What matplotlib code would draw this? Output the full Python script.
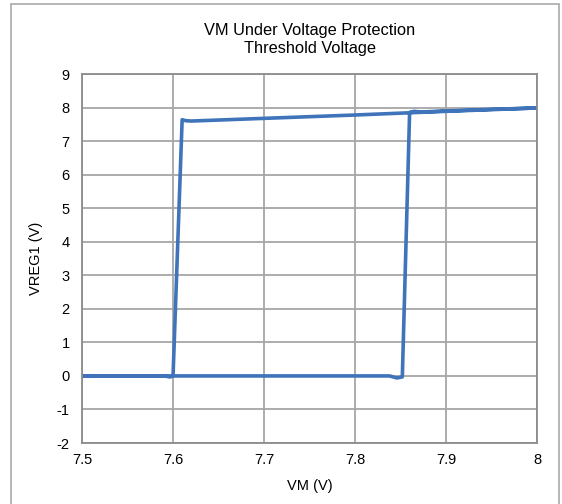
import numpy as np
import matplotlib.pyplot as plt
from matplotlib.patches import Rectangle

plt.rcParams["font.family"] = ["Liberation Sans", "DejaVu Sans"]
plt.rcParams["axes.unicode_minus"] = False

# hysteresis sweep: rising VM then falling VM
vm_up = [7.50, 7.60, 7.70, 7.80, 7.838, 7.846, 7.852, 7.860, 7.865, 7.872, 7.90, 7.95, 8.00]
vreg_up = [0.00, 0.00, 0.00, 0.00, 0.00, -0.06, -0.03, 7.86, 7.89, 7.87, 7.90, 7.95, 7.99]
vm_down = [8.00, 7.90, 7.80, 7.70, 7.62, 7.614, 7.610, 7.600, 7.597, 7.59, 7.55, 7.50]
vreg_down = [7.99, 7.89, 7.78, 7.68, 7.60, 7.61, 7.64, 0.00, -0.03, 0.00, 0.00, 0.00]

vm = np.array(vm_up + vm_down)
vreg = np.array(vreg_up + vreg_down)

fig = plt.figure(figsize=(5.62, 5.04), dpi=100)
ax = fig.add_axes([0.146, 0.121, 0.8095, 0.732])

ax.plot(vm, vreg, color="#3F74BA", lw=2.6, solid_joinstyle="round")

ax.set_xlim(7.5, 8.0)
ax.set_ylim(-2, 9)
ax.set_xticks([7.5, 7.6, 7.7, 7.8, 7.9, 8.0])
ax.set_xticklabels(["7.5", "7.6", "7.7", "7.8", "7.9", "8"])
ax.set_yticks(range(-2, 10))
ax.grid(True, color="#A6A6A6", lw=1.3)
ax.set_axisbelow(True)
ax.tick_params(length=0, labelsize=10.5, pad=7)
ax.tick_params(axis="y", pad=9)
for s in ax.spines.values():
    s.set_color("#8C8C8C")
    s.set_linewidth(1.3)

ax.set_title("VM Under Voltage Protection\nThreshold Voltage", fontsize=11.8, pad=15,
             linespacing=1.3)
ax.set_xlabel("VM (V)", fontsize=10.5, labelpad=9)
ax.set_ylabel("VREG1 (V)", fontsize=10.5, labelpad=10)

fig.patches.append(Rectangle((11 / 562, -0.02), 548 / 562, 1.012, transform=fig.transFigure,
                             fill=False, edgecolor="#B0B0B0", lw=1.3))

fig.savefig("out.png", dpi=100)
